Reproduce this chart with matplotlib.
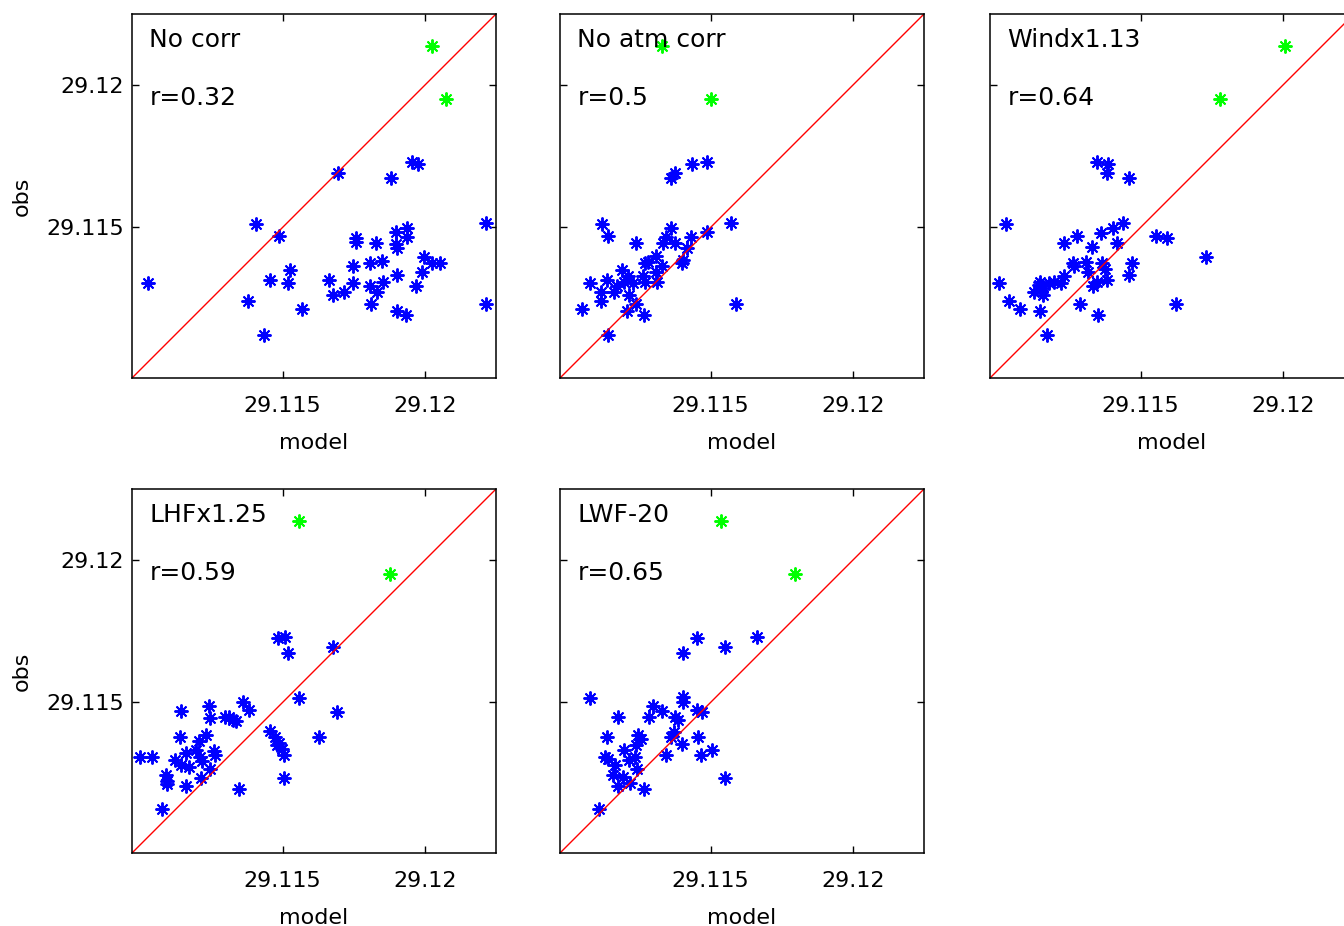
import matplotlib
matplotlib.use("Agg")
import matplotlib.pyplot as plt
from matplotlib.ticker import FormatStrFormatter

# panel names and correlation labels
names = ["No corr", "No atm corr", "Windx1.13", "LHFx1.25", "LWF-20"]
rvals = ["r=0.32", "r=0.5", "r=0.64", "r=0.59", "r=0.65"]

# blue points: model (x) vs obs (y)
p1_model = [29.11027, 29.11406, 29.11488, 29.11696, 29.11880, 29.11954, 29.11974, 29.12216, 29.12216,
            29.11379, 29.11435, 29.11455, 29.11526, 29.11520, 29.11569, 29.11664, 29.11676, 29.11717,
            29.11746, 29.11746, 29.11758, 29.11758, 29.11808, 29.11829, 29.11849, 29.11808, 29.11833,
            29.11852, 29.11810, 29.11899, 29.11899, 29.11901, 29.11901, 29.11901, 29.11937, 29.11937,
            29.11934, 29.11969, 29.11989, 29.11998, 29.12025, 29.12052]
p1_obs = [29.11305, 29.11512, 29.11468, 29.11691, 29.11672, 29.11731, 29.11722, 29.11514, 29.11231,
          29.11242, 29.11122, 29.11313, 29.11351, 29.11305, 29.11211, 29.11313, 29.11262, 29.11272,
          29.11305, 29.11363, 29.11461, 29.11447, 29.11375, 29.11444, 29.11383, 29.11293, 29.11272,
          29.11309, 29.11231, 29.11485, 29.11441, 29.11426, 29.11333, 29.11207, 29.11496, 29.11465,
          29.11192, 29.11293, 29.11344, 29.11395, 29.11375, 29.11375]

p2_model = [29.11047, 29.11074, 29.11117, 29.11139, 29.11139, 29.11115, 29.11115, 29.11136, 29.11160,
            29.11171, 29.11188, 29.11195, 29.11209, 29.11211, 29.11227, 29.11207, 29.11238, 29.11238,
            29.11265, 29.11262, 29.11270, 29.11270, 29.11279, 29.11309, 29.11309, 29.11312, 29.11329,
            29.11332, 29.11341, 29.11361, 29.11362, 29.11376, 29.11376, 29.11400, 29.11403, 29.11415,
            29.11430, 29.11434, 29.11488, 29.11488, 29.11573, 29.11590]
p2_obs = [29.11211, 29.11305, 29.11512, 29.11468, 29.11122, 29.11272, 29.11242, 29.11313, 29.11274,
          29.11293, 29.11351, 29.11309, 29.11330, 29.11262, 29.11305, 29.11204, 29.11231, 29.11444,
          29.11192, 29.11330, 29.11309, 29.11375, 29.11379, 29.11398, 29.11342, 29.11309, 29.11365,
          29.11444, 29.11465, 29.11496, 29.11672, 29.11691, 29.11444, 29.11375, 29.11386, 29.11426,
          29.11465, 29.11722, 29.11728, 29.11485, 29.11514, 29.11231]

p3_model = [29.11000, 29.11026, 29.11038, 29.11074, 29.11126, 29.11141, 29.11147, 29.11156, 29.11156,
            29.11145, 29.11171, 29.11179, 29.11194, 29.11218, 29.11229, 29.11229, 29.11262, 29.11265,
            29.11276, 29.11286, 29.11309, 29.11314, 29.11329, 29.11333, 29.11345, 29.11347, 29.11349,
            29.11361, 29.11365, 29.11376, 29.11380, 29.11385, 29.11382, 29.11404, 29.11418, 29.11439,
            29.11459, 29.11459, 29.11471, 29.11553, 29.11592, 29.11624, 29.11729]
p3_obs = [29.11305, 29.11512, 29.11242, 29.11211, 29.11274, 29.11297, 29.11309, 29.11286, 29.11262,
          29.11204, 29.11122, 29.11305, 29.11309, 29.11305, 29.11330, 29.11444, 29.11375, 29.11363,
          29.11468, 29.11231, 29.11379, 29.11342, 29.11432, 29.11293, 29.11728, 29.11309, 29.11192,
          29.11480, 29.11375, 29.11354, 29.11691, 29.11722, 29.11313, 29.11496, 29.11444, 29.11515,
          29.11672, 29.11333, 29.11375, 29.11468, 29.11461, 29.11231, 29.11395]

p4_model = [29.10998, 29.11039, 29.11077, 29.11089, 29.11094, 29.11094, 29.11121, 29.11138, 29.11144,
            29.11144, 29.11160, 29.11160, 29.11171, 29.11195, 29.11207, 29.11209, 29.11212, 29.11215,
            29.11230, 29.11242, 29.11246, 29.11246, 29.11258, 29.11262, 29.11297, 29.11312, 29.11324,
            29.11336, 29.11347, 29.11362, 29.11380, 29.11455, 29.11473, 29.11479, 29.11488, 29.11496,
            29.11505, 29.11505, 29.11485, 29.11508, 29.11520, 29.11559, 29.11629, 29.11676, 29.11692]
p4_obs = [29.11309, 29.11309, 29.11125, 29.11246, 29.11222, 29.11211, 29.11297, 29.11379, 29.11278,
          29.11471, 29.11321, 29.11207, 29.11274, 29.11333, 29.11365, 29.11309, 29.11234, 29.11293,
          29.11386, 29.11488, 29.11444, 29.11266, 29.11330, 29.11313, 29.11447, 29.11447, 29.11438,
          29.11433, 29.11196, 29.11500, 29.11473, 29.11398, 29.11377, 29.11351, 29.11356, 29.11336,
          29.11313, 29.11234, 29.11726, 29.11728, 29.11672, 29.11515, 29.11377, 29.11693, 29.11465]

p5_model = [29.11074, 29.11106, 29.11127, 29.11136, 29.11139, 29.11156, 29.11164, 29.11174, 29.11174,
            29.11191, 29.11195, 29.11211, 29.11215, 29.11235, 29.11238, 29.11242, 29.11244, 29.11256,
            29.11265, 29.11282, 29.11297, 29.11329, 29.11344, 29.11362, 29.11371, 29.11376, 29.11385,
            29.11399, 29.11403, 29.11403, 29.11403, 29.11453, 29.11453, 29.11455, 29.11465, 29.11469,
            29.11505, 29.11549, 29.11549, 29.11664]
p5_obs = [29.11515, 29.11125, 29.11309, 29.11377, 29.11301, 29.11246, 29.11278, 29.11447, 29.11207,
          29.11237, 29.11333, 29.11297, 29.11215, 29.11309, 29.11351, 29.11266, 29.11386, 29.11371,
          29.11196, 29.11447, 29.11488, 29.11471, 29.11313, 29.11379, 29.11395, 29.11450, 29.11436,
          29.11354, 29.11672, 29.11518, 29.11500, 29.11726, 29.11473, 29.11379, 29.11313, 29.11465,
          29.11333, 29.11693, 29.11234, 29.11731]

# green points (two special days)
g_model = [[29.12025, 29.12075], [29.11329, 29.11502], [29.12006, 29.11779],
           [29.11559, 29.11878], [29.11535, 29.11796]]
g_obs = [29.12138, 29.11951]

models = [p1_model, p2_model, p3_model, p4_model, p5_model]
obss = [p1_obs, p2_obs, p3_obs, p4_obs, p5_obs]

lims = [29.1097, 29.1225]
ticks = [29.115, 29.12]

W, H = 1344, 926
fig = plt.figure(figsize=(W / 100, H / 100), dpi=100)

# axes boxes in pixels: left, top
boxes = [(132, 14), (560, 14), (990, 14), (132, 489), (560, 489)]
size = 364

star = (8, 2, 0)

for i in range(5):
    left, top = boxes[i]
    ax = fig.add_axes([left / W, 1 - (top + size) / H, size / W, size / H])

    ax.plot(models[i], obss[i], linestyle="none", marker=star, markersize=10,
            markeredgewidth=1.4, color=(0, 0, 1))
    ax.plot(g_model[i], g_obs, linestyle="none", marker=star, markersize=10,
            markeredgewidth=1.4, color=(0, 1, 0))
    ax.plot(lims, lims, color=(1, 0, 0), linewidth=1.0)

    ax.set_xlim(lims)
    ax.set_ylim(lims)
    ax.set_xticks(ticks)
    ax.set_yticks(ticks)
    ax.xaxis.set_major_formatter(FormatStrFormatter("%g"))
    ax.yaxis.set_major_formatter(FormatStrFormatter("%g"))
    ax.tick_params(direction="in", length=5, width=1, top=True, right=True,
                   labelsize=16, colors="black")
    ax.tick_params(axis="x", pad=13)
    ax.tick_params(axis="y", pad=6)
    for sp in ax.spines.values():
        sp.set_linewidth(1.1)
        sp.set_color("black")

    ax.set_xlabel("model", fontsize=16, labelpad=12)
    if left == 132:
        ax.set_ylabel("obs", fontsize=16, labelpad=10)
    else:
        ax.set_yticklabels([])

    ax.text(0.048, 0.909, names[i], transform=ax.transAxes, fontsize=18,
            va="baseline", ha="left")
    ax.text(0.048, 0.75, rvals[i], transform=ax.transAxes, fontsize=18,
            va="baseline", ha="left")

fig.savefig("out.png", dpi=100)
